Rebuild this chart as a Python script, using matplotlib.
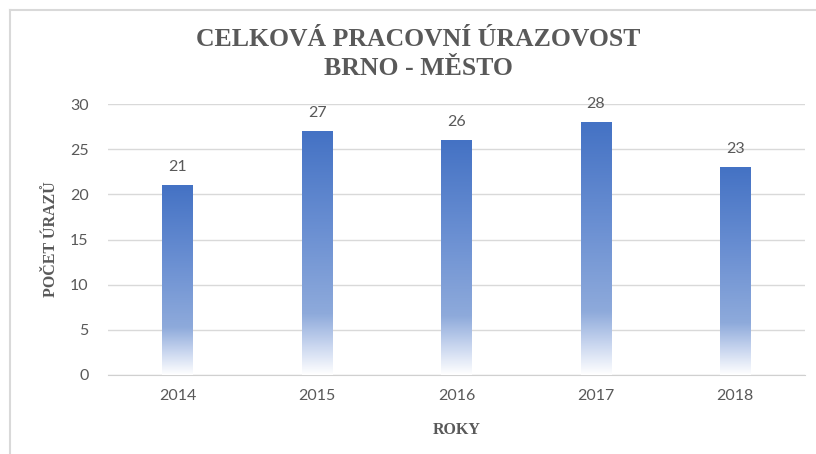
import matplotlib.pyplot as plt
import numpy as np
from matplotlib.colors import LinearSegmentedColormap
from matplotlib.lines import Line2D

# data
roky = ['2014', '2015', '2016', '2017', '2018']
urazy = [21, 27, 26, 28, 23]

seda = '#595959'
fig = plt.figure(figsize=(8.16, 4.54), dpi=100)
ax = fig.add_axes([108 / 816, 1 - 375 / 454, 697 / 816, 271 / 454])

x = np.arange(len(roky))
bars = ax.bar(x, urazy, width=0.22, color='none', zorder=3)

# gradient: white at bottom -> blue at top (relative to bar height)
cmap = LinearSegmentedColormap.from_list(
    'grad', [(0.0, '#ffffff'), (0.12, '#c9d6ef'), (0.25, '#8eaadb'),
             (0.6, '#6a8fd2'), (1.0, '#4472c4')])
grad = np.linspace(0, 1, 256).reshape(-1, 1)
for b in bars:
    x0, w, h = b.get_x(), b.get_width(), b.get_height()
    im = ax.imshow(grad, cmap=cmap, origin='lower', aspect='auto',
                   extent=(x0, x0 + w, 0, h), zorder=3)
    im.set_clip_path(b)

for xi, v in zip(x, urazy):
    ax.text(xi, v + 1.2, str(v), ha='center', va='bottom', fontsize=11.5,
            color=seda, family=['Lato', 'DejaVu Sans'])

ax.set_xlim(-0.5, len(roky) - 0.5)
ax.set_ylim(0, 30)
ax.set_yticks(range(0, 31, 5))
ax.set_xticks(x)
ax.set_xticklabels(roky)
ax.grid(axis='y', color='#d9d9d9', linewidth=1, zorder=0)
ax.set_axisbelow(True)
for s in ['top', 'right', 'left']:
    ax.spines[s].set_visible(False)
ax.spines['bottom'].set_color('#d0d0d0')
ax.tick_params(length=0, labelsize=11.5, labelcolor=seda, pad=10)
for lab in ax.get_xticklabels() + ax.get_yticklabels():
    lab.set_family(['Lato', 'DejaVu Sans'])
ax.tick_params(axis='y', pad=14)

ax.set_xlabel('ROKY', fontsize=11.5, fontweight='bold', color=seda,
              family='Liberation Serif', labelpad=14)
ax.set_ylabel('POČET ÚRAZŮ', fontsize=11.5, fontweight='bold', color=seda,
              family='Liberation Serif', labelpad=8)

fig.text(418 / 816, 1 - 54 / 454, 'CELKOVÁ PRACOVNÍ ÚRAZOVOST\nBRNO - MĚSTO',
         ha='center', va='center', fontsize=18.5, fontweight='bold',
         color=seda, family='Liberation Serif', linespacing=1.35)

# frame of the chart area
fig.add_artist(Line2D([9.5 / 816, 9.5 / 816], [0, 1 - 10 / 454],
                      color='#d9d9d9', linewidth=1.5))
fig.add_artist(Line2D([9.5 / 816, 1], [1 - 10 / 454, 1 - 10 / 454],
                      color='#d9d9d9', linewidth=1.5))

fig.savefig('out.png', dpi=100)
